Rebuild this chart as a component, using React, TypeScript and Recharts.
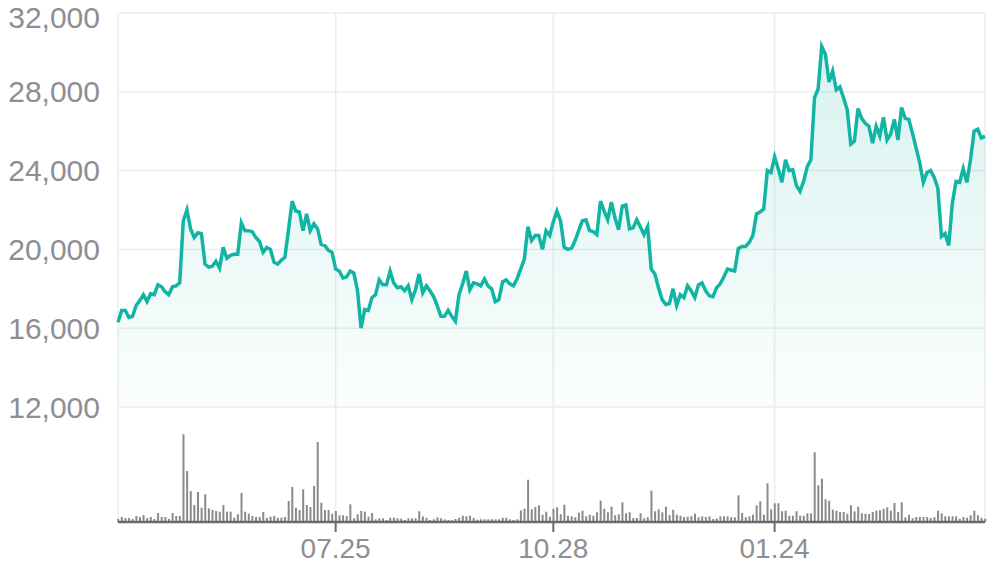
import React from 'react';
import { ComposedChart, Area, Bar, XAxis, YAxis, CartesianGrid } from 'recharts';

// daily closing price
const prices = [
  16300, 16900, 16900, 16550, 16600, 17150, 17400, 17700, 17350, 17750,
  17700, 18200, 18100, 17850, 17700, 18100, 18150, 18300, 21450, 22000,
  21050, 20600, 20850, 20800, 19250, 19100, 19150, 19400, 19050, 20100,
  19550, 19700, 19750, 19750, 21350, 20950, 20950, 20900, 20600, 20400,
  19850, 20100, 20000, 19350, 19250, 19450, 19600, 21000, 22450, 21950,
  21900, 20950, 21800, 20950, 21300, 21050, 20250, 20200, 19950, 19850,
  19000, 18900,
  18550, 18600, 18900, 18800, 17950, 16000, 16950, 16900, 17550, 17700,
  18450, 18200, 18200, 18900, 18300, 18050, 18100, 17900, 18150, 17450,
  17950, 18750, 17800, 18150, 17900, 17600, 17150, 16600, 16600, 16900,
  16600, 16350, 17700, 18250, 18900, 17950, 18300, 18250, 18150, 18500,
  18150, 18000, 17350, 17450, 18350, 18450, 18250, 18150, 18500, 19000,
  19500, 21150, 20450, 20700, 20700, 20000, 20950, 20700, 21400,
  21950, 21450, 20100, 20000, 20050, 20450, 20950, 21450, 21500, 20950,
  20900, 20750, 22450, 21950, 21500, 22400, 21600, 21000, 22200, 22250,
  21050, 21100, 21500, 21150, 20750, 21150, 19000, 18750, 18050, 17450,
  17200, 17250, 18000, 17150, 17700, 17550, 18150, 17900, 17550, 18200,
  18300, 17900, 17650, 17600, 18050, 18250, 18600, 19000, 18950, 18900,
  20050, 20150, 20150, 20350, 20700, 21800, 21900, 22050,
  24000, 23900, 24700, 24100, 23400, 24550, 24000, 24050, 23250, 22950,
  23450, 24200, 24550, 27700, 28150, 30300, 29900, 28500, 29050, 28100,
  28250, 27700, 27100, 25350, 25500, 27150, 26650, 26400, 26250, 25400,
  26250, 25750, 26700, 25550, 25850, 26600, 25550, 27200, 26650, 26600,
  25900, 25150, 24400, 23400, 23900, 24000, 23650, 23100, 20650, 20800,
  20200, 22350, 23450, 23400, 24100, 23400, 24550, 26000, 26100, 25650,
  25750,
];

// daily volume (thousand shares)
const volumes = [
  30, 50, 40, 40, 30, 60, 50, 70, 40, 50,
  30, 90, 50, 50, 30, 90, 60, 60, 877, 510,
  310, 170, 300, 143, 277, 137, 120, 110, 103, 170,
  103, 103, 43, 77, 290, 103, 83, 60, 50, 50,
  100, 43, 53, 60, 43, 43, 50, 210, 350, 143,
  120, 327, 170, 150, 360, 800, 193, 120, 120, 83,
  110, 67, 67, 60, 177, 37, 77, 110, 103, 53,
  90, 27, 37, 37, 20, 43, 43, 37, 33, 20,
  37, 37, 37, 107, 57, 43, 20, 27, 47, 37,
  27, 20, 17, 30, 43, 63, 57, 63, 40, 23,
  27, 27, 27, 27, 27, 27, 43, 43, 27, 20,
  27, 117, 133, 423, 127, 150, 167, 73, 103, 53,
  133, 147, 77, 173, 63, 57, 47, 93, 113, 57,
  73, 63, 97, 213, 133, 97, 153, 67, 77, 197,
  87, 97, 40, 40, 87, 37, 47, 313, 107, 127,
  97, 153, 70, 123, 73, 63, 50, 53, 57, 83,
  47, 57, 50, 57, 30, 37, 57, 57, 57, 47,
  47, 267, 90, 47, 57, 73, 167, 207, 73, 387,
  127, 187, 187, 107, 113, 63, 63, 107, 63, 63,
  87, 87, 697, 367, 433, 227, 213, 123, 113, 100,
  100, 83, 167, 107, 153, 87, 83, 80, 100, 113,
  117, 133, 147, 113, 190, 100, 197, 47, 73, 37,
  50, 50, 50, 50, 40, 50, 113, 87, 57, 57,
  57, 57, 33, 50, 43, 67, 113, 67, 43, 33,
];

const priceTicks = [12000, 16000, 20000, 24000, 28000, 32000];
const dateTickIndex = [60, 120, 181];
const dateTickLabels = ['07.25', '10.28', '01.24'];

const data = prices.map((price, i) => ({ i, price, volume: volumes[i] }));

const TEAL = '#12b5a4';
const LABEL = '#8e8e93';
const FONT = '"Liberation Sans", Arial, sans-serif';

export default function App() {
  return (
    <div style={{ position: 'absolute', left: 0, top: 0, background: '#fff' }}>
      <ComposedChart
        width={996}
        height={567}
        data={data}
        margin={{ top: 13, right: 11, bottom: 0, left: 0 }}
      >
        <defs>
          <linearGradient id="priceFill" x1="0" y1="0" x2="0" y2="1">
            <stop offset="0%" stopColor={TEAL} stopOpacity={0.27} />
            <stop offset="100%" stopColor={TEAL} stopOpacity={0.03} />
          </linearGradient>
        </defs>
        <CartesianGrid yAxisId="price" stroke="#ececec" strokeWidth={1.5} />
        <XAxis
          dataKey="i"
          type="number"
          domain={[0, prices.length - 1]}
          ticks={dateTickIndex}
          interval={0}
          tickFormatter={(v) => dateTickLabels[dateTickIndex.indexOf(v)]}
          height={45}
          axisLine={{ stroke: '#6b6b6b', strokeWidth: 2.5 }}
          tickLine={{ stroke: '#6b6b6b', strokeWidth: 2 }}
          tickSize={10}
          tickMargin={6}
          tick={{ fill: LABEL, fontSize: 28, fontFamily: FONT }}
        />
        <YAxis
          yAxisId="price"
          domain={[6160, 32000]}
          ticks={priceTicks}
          width={118}
          axisLine={false}
          tickLine={false}
          tickSize={0}
          tickMargin={18}
          tick={{ fill: LABEL, fontSize: 30, fontFamily: FONT }}
          tickFormatter={(v) => v.toLocaleString('en-US')}
        />
        <YAxis yAxisId="volume" hide domain={[0, 5090]} />
        <Bar yAxisId="volume" dataKey="volume" fill="#8a8a8a" barSize={2} isAnimationActive={false} />
        <Area
          yAxisId="price"
          type="linear"
          dataKey="price"
          stroke={TEAL}
          strokeWidth={3.5}
          fill="url(#priceFill)"
          baseValue={12000}
          dot={false}
          activeDot={false}
          isAnimationActive={false}
        />
      </ComposedChart>
    </div>
  );
}
